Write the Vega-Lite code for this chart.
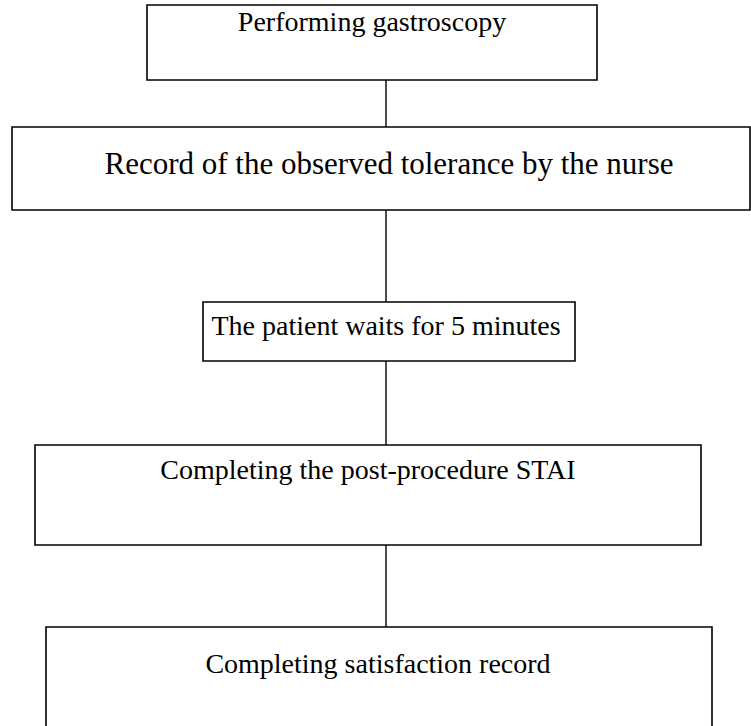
{
  "$schema": "https://vega.github.io/schema/vega-lite/v6.json",
  "width": 751,
  "height": 726,
  "padding": 0,
  "autosize": {"type": "none"},
  "background": "white",
  "config": {"view": {"stroke": null}},
  "datasets": {
    "boxes": [
      {"step": "Performing gastroscopy", "x0": 147, "x1": 597, "y0": 5, "y1": 80, "tx": 372, "ty": 23},
      {"step": "Record of the observed tolerance by the nurse", "x0": 12, "x1": 750, "y0": 127, "y1": 210, "tx": 389, "ty": 165},
      {"step": "The patient waits for 5 minutes", "x0": 203, "x1": 575, "y0": 302, "y1": 361, "tx": 386, "ty": 327},
      {"step": "Completing the post-procedure STAI", "x0": 35, "x1": 701, "y0": 445, "y1": 545, "tx": 368, "ty": 471},
      {"step": "Completing satisfaction record", "x0": 46, "x1": 712, "y0": 627, "y1": 740, "tx": 378, "ty": 665}
    ],
    "links": [
      {"x": 386, "y0": 80, "y1": 127},
      {"x": 386, "y0": 210, "y1": 302},
      {"x": 386, "y0": 361, "y1": 445},
      {"x": 386, "y0": 545, "y1": 627}
    ]
  },
  "layer": [
    {
      "data": {"name": "links"},
      "mark": {"type": "rule", "color": "black", "strokeWidth": 1.4},
      "encoding": {
        "x": {"field": "x", "type": "quantitative", "scale": {"domain": [0, 751], "nice": false, "zero": false}, "axis": null},
        "y": {"field": "y0", "type": "quantitative", "scale": {"domain": [726, 0], "nice": false, "zero": false}, "axis": null},
        "y2": {"field": "y1"}
      }
    },
    {
      "data": {"name": "boxes"},
      "mark": {"type": "rect", "fill": "white", "stroke": "black", "strokeWidth": 1.6, "clip": true},
      "encoding": {
        "x": {"field": "x0", "type": "quantitative", "scale": {"domain": [0, 751], "nice": false, "zero": false}, "axis": null},
        "x2": {"field": "x1"},
        "y": {"field": "y0", "type": "quantitative", "scale": {"domain": [726, 0], "nice": false, "zero": false}, "axis": null},
        "y2": {"field": "y1"}
      }
    },
    {
      "data": {"name": "boxes"},
      "transform": [{"filter": "datum.step !== 'Record of the observed tolerance by the nurse'"}],
      "mark": {"type": "text", "font": "Liberation Serif", "fontSize": 28, "color": "black", "align": "center", "baseline": "middle"},
      "encoding": {
        "x": {"field": "tx", "type": "quantitative", "scale": {"domain": [0, 751], "nice": false, "zero": false}, "axis": null},
        "y": {"field": "ty", "type": "quantitative", "scale": {"domain": [726, 0], "nice": false, "zero": false}, "axis": null},
        "text": {"field": "step"}
      }
    },
    {
      "data": {"name": "boxes"},
      "transform": [{"filter": "datum.step === 'Record of the observed tolerance by the nurse'"}],
      "mark": {"type": "text", "font": "Liberation Serif", "fontSize": 31, "color": "black", "align": "center", "baseline": "middle"},
      "encoding": {
        "x": {"field": "tx", "type": "quantitative", "scale": {"domain": [0, 751], "nice": false, "zero": false}, "axis": null},
        "y": {"field": "ty", "type": "quantitative", "scale": {"domain": [726, 0], "nice": false, "zero": false}, "axis": null},
        "text": {"field": "step"}
      }
    }
  ]
}
